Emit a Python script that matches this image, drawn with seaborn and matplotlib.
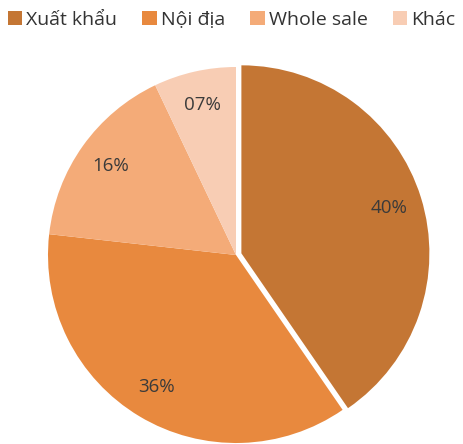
import matplotlib
matplotlib.use("Agg")
import matplotlib.pyplot as plt
import seaborn as sns
from matplotlib.patches import Patch

# Data
categories = ["Xuất khẩu", "Nội địa", "Whole sale", "Khác"]
shares = [40, 36, 16, 7]
pct_labels = ["40%", "36%", "16%", "07%"]
colors = ["#C47634", "#E8893E", "#F4AB78", "#F8CDB4"]

sns.set_theme(style="white")
plt.rcParams["font.family"] = ["Open Sans", "DejaVu Sans"]

fig = plt.figure(figsize=(4.63, 4.44), dpi=100)
W, H = 463, 444
r = 188
cx, cy = 236, 255
m = 1.06
ax = fig.add_axes([(cx - r * m) / W, (H - cy - r * m) / H, 2 * r * m / W, 2 * r * m / H])

lab_iter = iter(pct_labels)
wedges, texts, autotexts = ax.pie(
    shares,
    colors=colors,
    startangle=90,
    counterclock=False,
    explode=[0.03, 0, 0, 0],
    autopct=lambda p: next(lab_iter),
    pctdistance=0.82,
    textprops={"fontsize": 13.5, "color": "#3a3a3a"},
    wedgeprops={"linewidth": 0},
)
ax.set_xlim(-m, m)
ax.set_ylim(-m, m)
ax.set_aspect("equal")
ax.axis("off")

handles = [Patch(facecolor=c, edgecolor="none") for c in colors]
fig.legend(handles, categories, loc="upper center", bbox_to_anchor=(0.5, 1.015),
           ncol=4, frameon=False, fontsize=14, handlelength=0.75, handleheight=0.75,
           handletextpad=0.2, columnspacing=1.3, labelcolor="#333333")

fig.savefig("out.png", dpi=100)
